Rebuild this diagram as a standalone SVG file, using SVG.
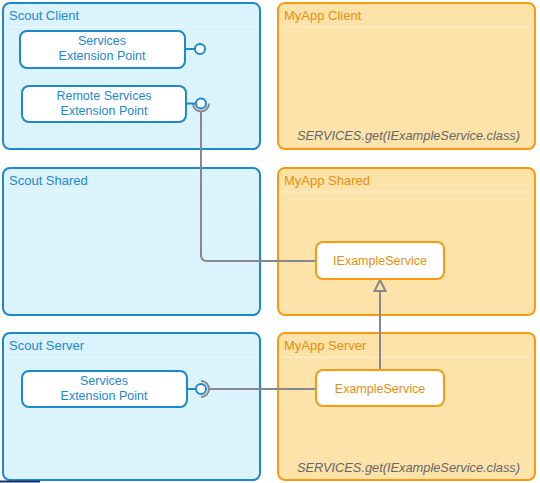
<svg xmlns="http://www.w3.org/2000/svg" width="540" height="483" viewBox="0 0 540 483">
<style>
.scout{fill:#daf3fd;stroke:#1e88cc;stroke-width:2}
.myapp{fill:#fde3aa;stroke:#f99a10;stroke-width:2}
.sep{stroke:#ffffff;stroke-opacity:0.45;stroke-width:1}
.title{font-family:"Liberation Sans",Arial,sans-serif;font-size:13px}
.st{fill:#1e88cc}
.mt{fill:#e88f0c}
.snode{fill:#ffffff;stroke:#1e88cc;stroke-width:2}
.mnode{fill:#ffffff;stroke:#f99a10;stroke-width:2}
.lbl{font-family:"Liberation Sans",Arial,sans-serif;font-size:12.5px;text-anchor:middle}
.code{font-family:"Liberation Sans",Arial,sans-serif;font-size:12.8px;font-style:italic;fill:#666666;text-anchor:end}
.lolly{fill:#ffffff;stroke:#1e88cc;stroke-width:2}
.conn{fill:none;stroke:#888888;stroke-width:2}
</style>
<g id="scout-client">
<rect class="scout" x="3" y="3" width="257" height="146" rx="7"/>
<line class="sep" x1="4" y1="27" x2="259" y2="27"/>
<text class="title st" x="9" y="20">Scout Client</text>
</g>
<g id="myapp-client">
<rect class="myapp" x="278" y="3" width="257" height="146" rx="7"/>
<line class="sep" x1="279" y1="27" x2="534" y2="27"/>
<text class="title mt" x="284" y="20">MyApp Client</text>
<text class="code" x="520" y="140">SERVICES.get(IExampleService.class)</text>
</g>
<g id="scout-shared">
<rect class="scout" x="3" y="168" width="257" height="147" rx="7"/>
<line class="sep" x1="4" y1="192" x2="259" y2="192"/>
<text class="title st" x="9" y="185">Scout Shared</text>
</g>
<g id="myapp-shared">
<rect class="myapp" x="278" y="168" width="257" height="147" rx="7"/>
<line class="sep" x1="279" y1="192" x2="534" y2="192"/>
<text class="title mt" x="284" y="185">MyApp Shared</text>
</g>
<g id="scout-server">
<rect class="scout" x="3" y="333" width="257" height="147" rx="7"/>
<line class="sep" x1="4" y1="357" x2="259" y2="357"/>
<text class="title st" x="9" y="350">Scout Server</text>
</g>
<g id="myapp-server">
<rect class="myapp" x="278" y="333" width="257" height="147" rx="7"/>
<line class="sep" x1="279" y1="357" x2="534" y2="357"/>
<text class="title mt" x="284" y="350">MyApp Server</text>
<text class="code" x="520" y="472">SERVICES.get(IExampleService.class)</text>
</g>
<g id="connectors">
<path class="conn" d="M201,111 V255 Q201,261 207,261 H316"/>
<path class="conn" d="M208,389 H316"/>
<path class="conn" d="M380,291 V370"/>
<polygon points="380,280 374.5,291 385.5,291" fill="#fde3aa" stroke="#888888" stroke-width="2"/>
<path class="conn" d="M193,103.5 A8,8 0 0 0 209,103.5"/>
<path class="conn" d="M201,381 A8,8 0 0 1 201,397"/>
</g>
<g id="client-services-ep">
<rect class="snode" x="20" y="31" width="165" height="37" rx="7"/>
<line x1="185" y1="49" x2="195" y2="49" stroke="#1e88cc" stroke-width="2"/>
<circle class="lolly" cx="200" cy="49" r="5"/>
<text class="lbl st" x="102" y="45">Services</text>
<text class="lbl st" x="102" y="60">Extension Point</text>
</g>
<g id="client-remote-services-ep">
<rect class="snode" x="22" y="86" width="164" height="36" rx="7"/>
<line x1="186" y1="103.5" x2="196" y2="103.5" stroke="#1e88cc" stroke-width="2"/>
<circle class="lolly" cx="201" cy="103.5" r="5"/>
<text class="lbl st" x="104" y="100">Remote Services</text>
<text class="lbl st" x="104" y="115">Extension Point</text>
</g>
<g id="server-services-ep">
<rect class="snode" x="22" y="371" width="165" height="36" rx="7"/>
<line x1="187" y1="389" x2="196" y2="389" stroke="#1e88cc" stroke-width="2"/>
<circle class="lolly" cx="201" cy="389" r="5"/>
<text class="lbl st" x="104" y="385">Services</text>
<text class="lbl st" x="104" y="400">Extension Point</text>
</g>
<g id="iexampleservice">
<rect class="mnode" x="316" y="242" width="128" height="37" rx="7"/>
<text class="lbl mt" x="380" y="265">IExampleService</text>
</g>
<g id="exampleservice">
<rect class="mnode" x="316" y="370" width="128" height="36" rx="7"/>
<text class="lbl mt" x="380" y="393">ExampleService</text>
</g>
<line x1="0" y1="481.5" x2="40" y2="481.5" stroke="#1a2a6a" stroke-width="2"/>
</svg>
